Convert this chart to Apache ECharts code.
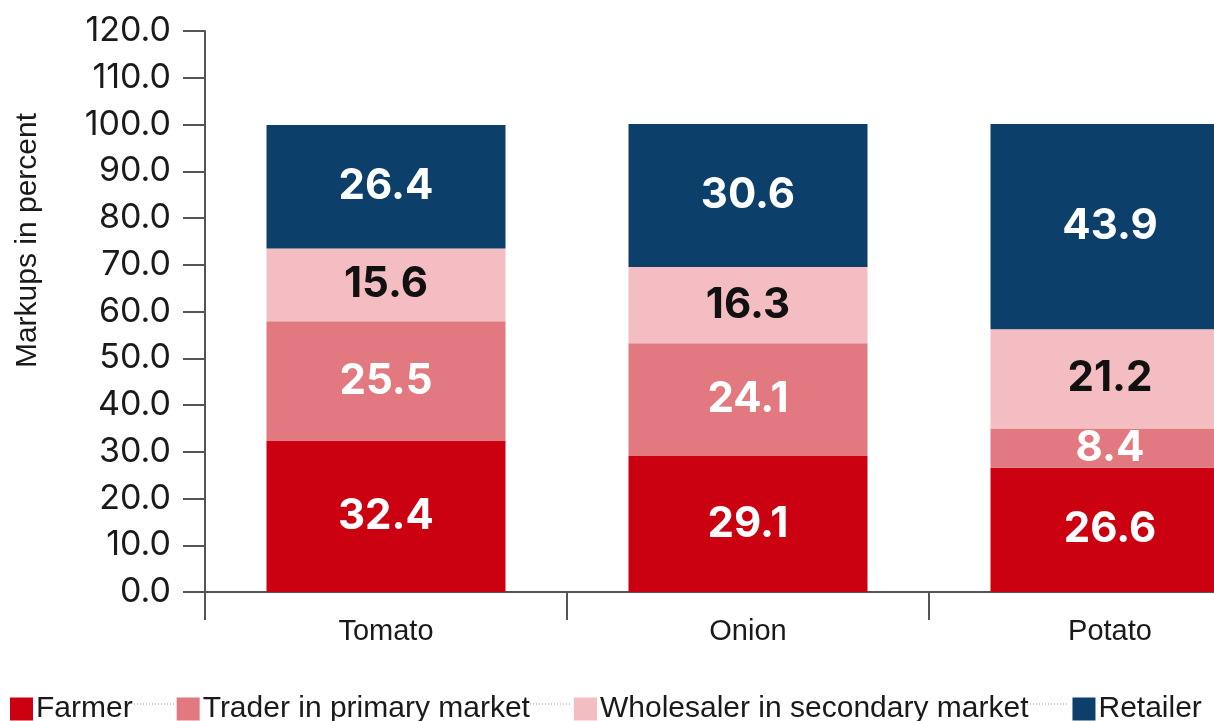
<!DOCTYPE html>
<html>
<head>
<meta charset="utf-8">
<script src="https://cdn.jsdelivr.net/npm/echarts@6/dist/echarts.min.js"></script>
<style>html,body{margin:0;padding:0;background:#fff;}#c{width:1214px;height:721px;}</style>
</head>
<body>
<div id="c"></div>
<script>
const categories = ['Tomato', 'Onion', 'Potato'];
const seriesNames = ['Farmer', 'Trader in primary market', 'Wholesaler in secondary market', 'Retailer'];
const farmer = [32.4, 29.1, 26.6];
const trader = [25.5, 24.1, 8.4];
const wholesaler = [15.6, 16.3, 21.2];
const retailer = [26.4, 30.6, 43.9];
const colors = ['#CB0010', '#E27880', '#F4BDC2', '#0C3F69'];
const labelColors = ['#fff', '#fff', '#111', '#fff'];
const values = [farmer, trader, wholesaler, retailer];

const chart = echarts.init(document.getElementById('c'), null, {renderer: 'canvas'});
const axisColor = '#555';
const dots = [[134, 176], [530, 572], [1027, 1068]].map(([a, b]) => ({
  type: 'line', silent: true,
  shape: {x1: a, y1: 704, x2: b, y2: 704},
  style: {stroke: '#999', lineWidth: 1, lineDash: [1, 2]}
}));
chart.setOption({
  animation: false,
  grid: {left: 205, top: 31, bottom: 129, right: -77, containLabel: false, outerBoundsMode: 'none'},
  legend: {
    data: seriesNames,
    left: 5, top: 689,
    itemWidth: 23, itemHeight: 23, itemGap: 44,
    icon: 'rect',
    textStyle: {fontFamily: 'Liberation Sans', fontSize: 30, color: '#1a1a1a', padding: [0,0,0,-2]}
  },
  graphic: dots,
  xAxis: {
    type: 'category',
    data: categories,
    boundaryGap: true,
    axisLine: {lineStyle: {color: axisColor, width: 2}},
    axisTick: {show: true, length: 28, lineStyle: {color: axisColor, width: 2}},
    axisLabel: {fontFamily: 'Liberation Sans', fontSize: 29, color: '#1a1a1a', margin: 25}
  },
  yAxis: {
    type: 'value',
    min: 0, max: 120, interval: 10,
    name: 'Markups in percent',
    nameLocation: 'middle',
    nameGap: 162,
    nameRotate: 90,
    nameTextStyle: {fontFamily: 'Liberation Sans', fontSize: 30, color: '#1a1a1a', padding: [0, 0, 0, 142]},
    axisLine: {show: true, lineStyle: {color: axisColor, width: 2}},
    axisTick: {show: true, length: 22, lineStyle: {color: axisColor, width: 2}},
    splitLine: {show: false},
    axisLabel: {fontFamily: 'Inter', fontSize: 34, color: '#1a1a1a', margin: 34,
      formatter: v => v.toFixed(1)}
  },
  series: seriesNames.map((n, i) => ({
    name: n,
    type: 'bar',
    stack: 'total',
    barWidth: 239,
    data: values[i],
    itemStyle: {color: colors[i]},
    label: {show: true, position: 'inside', color: labelColors[i],
      fontFamily: 'Inter', fontWeight: 'bold', fontSize: 42,
      formatter: p => p.value.toFixed(1)}
  }))
});
</script>
</body>
</html>
